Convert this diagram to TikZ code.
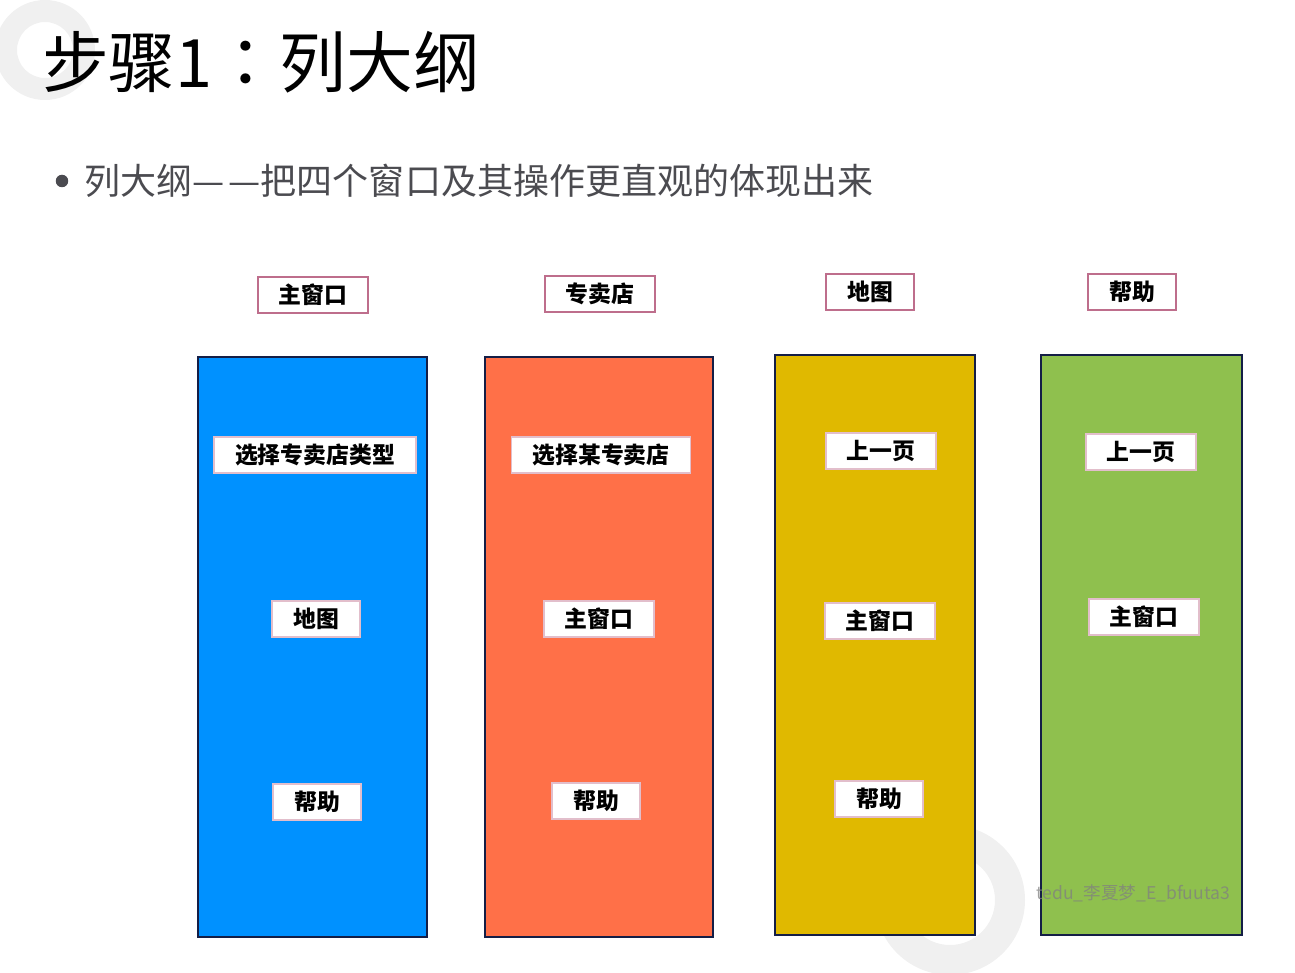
\documentclass[tikz,border=0pt]{standalone}
\usepackage{fontspec}
\setmainfont{Noto Sans CJK SC}
\newfontfamily\cjktc{Noto Sans CJK TC}

\definecolor{mainblue}{RGB}{0,145,255}
\definecolor{shoporange}{RGB}{255,112,72}
\definecolor{mapyellow}{RGB}{224,185,0}
\definecolor{helpgreen}{RGB}{143,192,78}
\definecolor{edgenavy}{RGB}{20,30,70}
\definecolor{framepink}{RGB}{190,110,140}
\definecolor{textgray}{RGB}{75,75,80}

\tikzset{
  head/.style={draw=framepink, line width=1pt, fill=white, inner xsep=0.42cm,
    minimum height=0.72cm, font=\bfseries\fontsize{13}{13}\selectfont},
  item/.style={head, draw=framepink!45},
  column/.style={draw=edgenavy, line width=0.8pt},
}

\begin{document}
\begin{tikzpicture}[x=0.02cm, y=-0.02cm]
\useasboundingbox (0, 0) rectangle (1295, 973);
% background rings
\fill[gray!12, even odd rule] (45, 50) circle (50) (45, 50) circle (28);
\fill[gray!12, even odd rule] (950, 900) circle (75) (950, 900) circle (45);

\node[anchor=west, font=\fontsize{38}{38}\selectfont] (title) at (36, 62) {步骤1{\cjktc ：}列大纲};
\node[circle, fill=textgray, inner sep=0pt, minimum size=0.25cm] (dot) at (62, 181) {};
\node[anchor=west, text=textgray, font=\fontsize{20.5}{20.5}\selectfont] (intro) at (78, 181)
  {列大纲—\kern0.12em—把四个窗口及其操作更直观的体现出来};

% window headers
\node[head] (hmain) at (313, 295) {主窗口};
\node[head] (hshop) at (600, 294) {专卖店};
\node[head] (hmap) at (870, 292) {地图};
\node[head] (hhelp) at (1132, 292) {帮助};

% columns
\draw[column, fill=mainblue] (198, 357) rectangle (427, 937);
\draw[column, fill=shoporange] (485, 357) rectangle (713, 937);
\draw[column, fill=mapyellow] (775, 355) rectangle (975, 935);
\draw[column, fill=helpgreen] (1041, 355) rectangle (1242, 935);

% operations
\node[item] (mtype) at (315, 455) {选择专卖店类型};
\node[item] (mmap) at (316, 619) {地图};
\node[item] (mhelp) at (317, 802) {帮助};

\node[item] (spick) at (601, 455) {选择某专卖店};
\node[item] (smain) at (599, 619) {主窗口};
\node[item] (shelp) at (596, 801) {帮助};

\node[item] (aprev) at (881, 451) {上一页};
\node[item] (amain) at (880, 621) {主窗口};
\node[item] (ahelp) at (879, 799) {帮助};

\node[item] (hprev) at (1141, 452) {上一页};
\node[item] (hmainb) at (1144, 617) {主窗口};

\node[text=gray, opacity=0.75, font=\fontsize{10}{10}\selectfont] (mark) at (1133, 893) {tedu\_李夏梦\_E\_bfuuta3};
\end{tikzpicture}
\end{document}
